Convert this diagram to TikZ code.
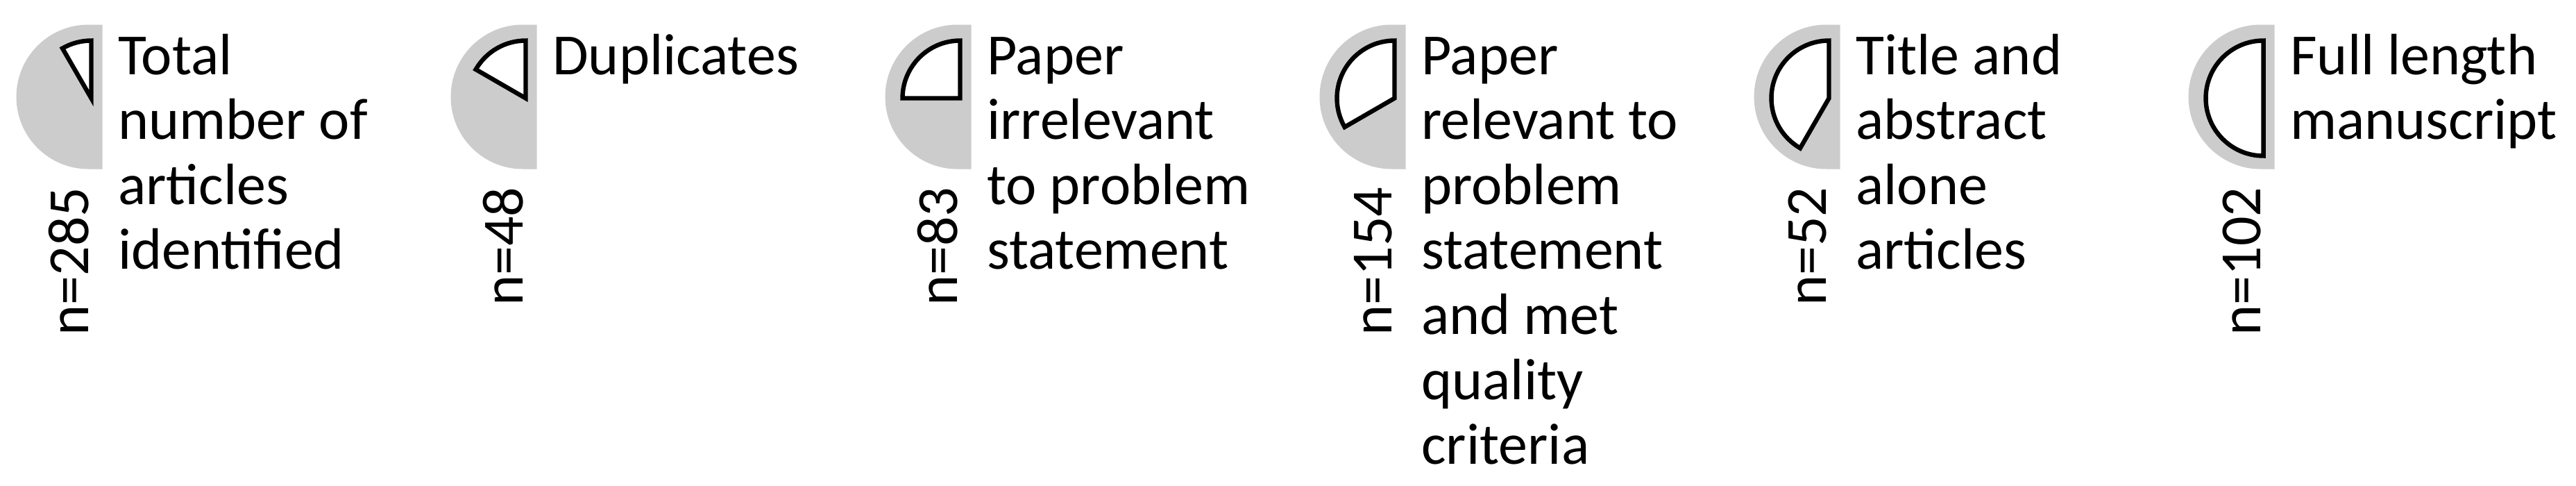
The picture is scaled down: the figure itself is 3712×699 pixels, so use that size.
\documentclass[tikz,border=0pt]{standalone}
\usepackage{fontspec}
\setmainfont{Carlito}
\definecolor{halfgrey}{RGB}{204,204,204}
\newcommand{\halficon}[2]{%
  % #1 = x of the flat right edge of the grey half disc, #2 = end angle of the white sector
  \fill[greyhalf] (#1,663.5) -- (#1-20,663.5) arc[start angle=90, end angle=270, radius=104] -- (#1,455.5) -- cycle;
  \draw[wedge] (#1-16,557.5) -- ++(90:83) arc[start angle=90, end angle=#2, radius=83] -- cycle;
}
\begin{document}
\begin{tikzpicture}[x=0.25pt,y=0.25pt,
  greyhalf/.style={fill=halfgrey},
  wedge/.style={fill=white, draw=black, line width=1.6pt, line join=miter},
  lbl/.style={anchor=base west, inner sep=0pt, font=\fontsize{21}{23.4}\selectfont},
  cnt/.style={anchor=base east, rotate=90, inner sep=0pt, font=\fontsize{21}{23.4}\selectfont}]
\useasboundingbox (0,0) rectangle (3712,699);
% icons
\halficon{147.5}{120}
\halficon{773.5}{150}
\halficon{1399.5}{180}
\halficon{2025.5}{210}
\halficon{2651.5}{240}
\halficon{3277.5}{270}
% counts
\node[cnt] (n1) at (127.5,430) {n=285};
\node[cnt] (n2) at (753.5,430) {n=48};
\node[cnt] (n3) at (1379.5,430) {n=83};
\node[cnt] (n4) at (2005.5,430) {n=154};
\node[cnt] (n5) at (2631.5,430) {n=52};
\node[cnt] (n6) at (3257.5,430) {n=102};
% labels
\node[lbl] (t1) at (169.5,592) {\begin{tabular}[t]{@{}l@{}}Total\\number of\\articles\\identified\end{tabular}};
\node[lbl] (t2) at (795.5,592) {\begin{tabular}[t]{@{}l@{}}Duplicates\end{tabular}};
\node[lbl] (t3) at (1421.5,592) {\begin{tabular}[t]{@{}l@{}}Paper\\irrelevant\\to problem\\statement\end{tabular}};
\node[lbl] (t4) at (2047.5,592) {\begin{tabular}[t]{@{}l@{}}Paper\\relevant to\\problem\\statement\\and met\\quality\\criteria\end{tabular}};
\node[lbl] (t5) at (2673.5,592) {\begin{tabular}[t]{@{}l@{}}Title and\\abstract\\alone\\articles\end{tabular}};
\node[lbl] (t6) at (3299.5,592) {\begin{tabular}[t]{@{}l@{}}Full length\\manuscript\end{tabular}};
\end{tikzpicture}
\end{document}
